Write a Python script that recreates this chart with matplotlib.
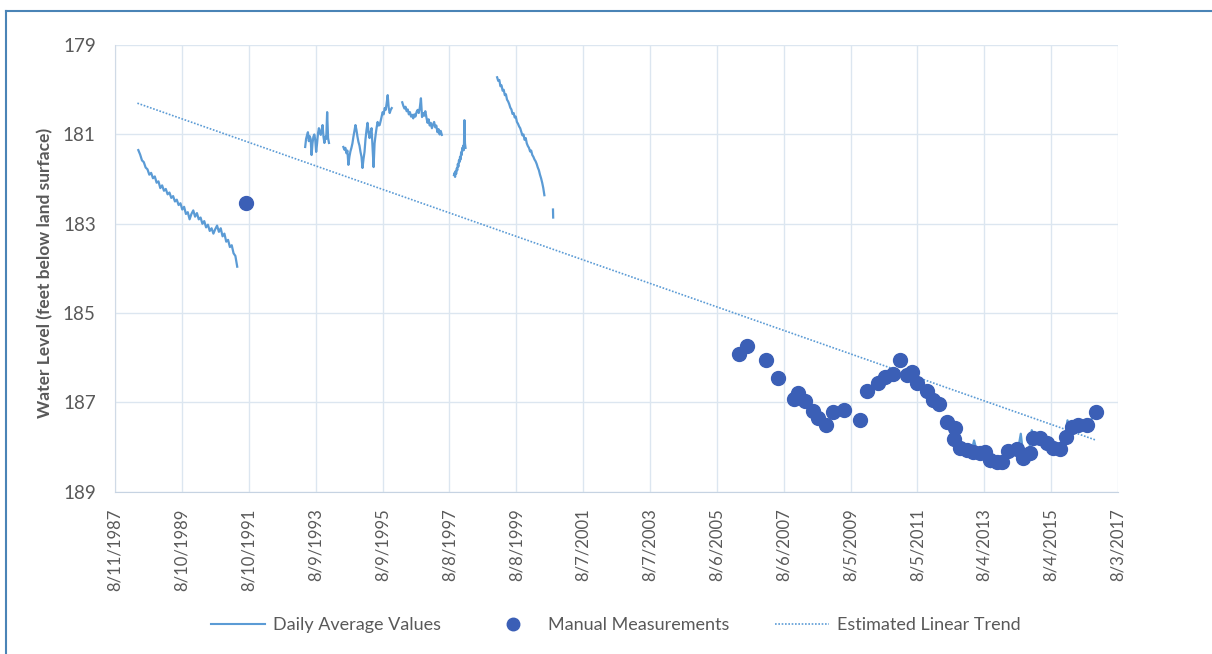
import matplotlib
matplotlib.use('Agg')
import matplotlib.pyplot as plt
import pandas as pd
from matplotlib.lines import Line2D

plt.rcParams['font.family'] = ['Lato', 'DejaVu Sans']

# x axis ticks (Excel style, 730 day major unit)
tickLabels = ['8/11/1987', '8/10/1989', '8/10/1991', '8/9/1993', '8/9/1995',
              '8/8/1997', '8/8/1999', '8/7/2001', '8/7/2003', '8/6/2005',
              '8/6/2007', '8/5/2009', '8/5/2011', '8/4/2013', '8/4/2015',
              '8/3/2017']
yTicks = [179, 181, 183, 185, 187, 189]

# daily average values, one list per logger record (start date, spacing in days, levels)
seg1Start, seg1Step = '1988-04-20', 20
seg1Levels = [181.35, 181.45, 181.58, 181.62, 181.74, 181.78, 181.90, 181.86, 181.98, 181.94,
              182.08, 182.05, 182.20, 182.14, 182.26, 182.22, 182.34, 182.30, 182.42, 182.38,
              182.50, 182.46, 182.58, 182.54, 182.68, 182.62, 182.78, 182.74, 182.90, 182.78,
              182.70, 182.84, 182.76, 182.90, 182.86, 183.00, 182.94, 183.08, 183.02, 183.16,
              183.10, 183.22, 183.12, 183.04, 183.18, 183.10, 183.28, 183.22, 183.40, 183.36,
              183.52, 183.48, 183.66, 183.72, 183.96]

seg2Start, seg2Step = '1993-04-16', 10
seg2Levels = [181.28, 181.10, 181.02, 180.95, 181.15, 181.04, 181.10, 181.46, 181.20, 181.05,
              181.00, 181.12, 181.39, 181.20, 180.98, 180.86, 180.95, 181.01, 180.90, 180.79,
              181.05, 181.19, 181.05, 181.10, 180.50, 181.08, 181.19]

seg3Start, seg3Step = '1994-06-07', 11
seg3Levels = [181.28, 181.34, 181.30, 181.42, 181.36, 181.68, 181.50, 181.38, 181.30, 181.20,
              181.05, 180.92, 180.79, 180.90, 181.05, 181.17, 181.25, 181.39, 181.50, 181.75,
              181.55, 181.39, 181.10, 180.90, 180.74, 180.95, 181.08, 180.95, 180.86, 181.30,
              181.73, 181.20, 181.01, 180.85, 180.72, 180.80, 180.79, 180.70, 180.60, 180.50,
              180.55, 180.41, 180.45, 180.30, 180.12, 180.40, 180.52, 180.45, 180.41]

seg4Start, seg4Step = '1996-03-11', 12
seg4Levels = [180.28, 180.36, 180.42, 180.38, 180.48, 180.44, 180.55, 180.50, 180.60, 180.56,
              180.64, 180.55, 180.60, 180.50, 180.45, 180.52, 180.40, 180.19, 180.61, 180.52,
              180.58, 180.48, 180.62, 180.74, 180.66, 180.80, 180.74, 180.86, 180.78, 180.72,
              180.84, 180.80, 180.95, 180.88, 181.00, 180.92, 181.01]

seg5Start, seg5Step = '1997-09-27', 6
seg5Levels = [181.91, 181.86, 181.95, 181.82, 181.88, 181.76, 181.80, 181.66, 181.72, 181.58,
              181.62, 181.50, 181.56, 181.40, 181.46, 181.30, 181.36, 181.25, 181.35, 180.68,
              181.20, 181.30]

seg6Start, seg6Step = '1999-01-11', 12
seg6Levels = [179.72, 179.80, 179.78, 179.92, 179.90, 180.02, 180.00, 180.12, 180.10, 180.22,
              180.26, 180.32, 180.40, 180.44, 180.54, 180.52, 180.62, 180.60, 180.72, 180.76,
              180.82, 180.86, 180.94, 181.02, 181.00, 181.12, 181.08, 181.20, 181.26, 181.30,
              181.38, 181.36, 181.46, 181.50, 181.56, 181.60, 181.66, 181.74, 181.80, 181.90,
              181.98, 182.08, 182.20, 182.36]

seg7Start, seg7Step = '2000-09-12', 2
seg7Levels = [182.68, 182.86]

seg8Start, seg8Step = '2012-07-19', 30
seg8Levels = [187.50, 187.72, 187.85, 187.95, 188.05, 187.92, 188.08, 188.00, 188.12, 187.85,
              188.10, 188.16, 188.02, 188.14, 188.30, 188.45, 188.28, 188.36, 188.22, 188.34,
              188.20, 188.06, 187.96, 188.08, 187.92, 188.06, 187.70, 188.22, 188.30, 188.10,
              187.62, 187.80, 187.72, 187.84, 187.80, 187.92, 187.86, 188.00, 187.96, 188.10,
              187.98, 188.02, 187.82, 187.40, 187.65, 187.50, 187.58, 187.45, 187.55, 187.42,
              187.52, 187.40, 187.36, 187.25]

# manual measurements (decimal year, level)
manualYears = [1991.53, 2006.26, 2006.50, 2007.07, 2007.43, 2007.91, 2008.03, 2008.24, 2008.48,
               2008.63, 2008.87, 2009.08, 2009.41, 2009.88, 2010.09, 2010.42, 2010.63, 2010.87,
               2011.08, 2011.29, 2011.44, 2011.59, 2011.89, 2012.07, 2012.25, 2012.49, 2012.68,
               2012.72, 2012.87, 2013.08, 2013.26, 2013.47, 2013.62, 2013.77, 2013.98, 2014.13,
               2014.31, 2014.58, 2014.76, 2014.97, 2015.06, 2015.27, 2015.48, 2015.66, 2015.86,
               2016.04, 2016.22, 2016.40, 2016.67, 2016.94]
manualLevels = [182.53, 185.91, 185.73, 186.05, 186.45, 186.92, 186.79, 186.96, 187.19,
                187.34, 187.50, 187.21, 187.17, 187.39, 186.74, 186.56, 186.43, 186.36,
                186.05, 186.38, 186.31, 186.56, 186.74, 186.94, 187.03, 187.43, 187.81,
                187.57, 188.02, 188.06, 188.11, 188.13, 188.11, 188.28, 188.33, 188.33,
                188.08, 188.04, 188.24, 188.13, 187.79, 187.79, 187.90, 188.02, 188.04,
                187.77, 187.55, 187.50, 187.50, 187.21]

# estimated linear trend end points
trendDates = ['1988-04-10', '2016-12-01']
trendLevels = [180.30, 187.84]


def decimalYearToDate(y):
    base = pd.Timestamp(year=int(y), month=1, day=1)
    return base + pd.Timedelta(days=(y - int(y)) * 365.25)


def segmentDates(start, step, levels):
    return pd.date_range(start, periods=len(levels), freq='%dD' % step)


lineColor = '#5b9bd5'
dotColor = '#3b5fb6'
textColor = '#595959'
gridColor = '#dce6f0'

fig = plt.figure(figsize=(12.12, 6.54), dpi=100)
ax = fig.add_axes([0.095, 0.248, 0.8274, 0.683])

segments = [(seg1Start, seg1Step, seg1Levels), (seg2Start, seg2Step, seg2Levels),
            (seg3Start, seg3Step, seg3Levels), (seg4Start, seg4Step, seg4Levels),
            (seg5Start, seg5Step, seg5Levels), (seg6Start, seg6Step, seg6Levels),
            (seg7Start, seg7Step, seg7Levels), (seg8Start, seg8Step, seg8Levels)]
for start, step, levels in segments:
    ax.plot(segmentDates(start, step, levels), levels, color=lineColor, lw=1.6, zorder=2)

manualDates = [decimalYearToDate(y) for y in manualYears]
ax.plot(manualDates, manualLevels, 'o', color=dotColor, markersize=10, zorder=3)

ax.plot(pd.to_datetime(trendDates), trendLevels, color=lineColor, lw=1.2,
        linestyle=(0, (1, 1)), zorder=2)

tickDates = pd.date_range('1987-08-11', periods=len(tickLabels), freq='730D')
ax.set_xticks(tickDates)
ax.set_xticklabels(tickLabels, rotation=90, fontsize=12, color=textColor)
ax.set_xlim(tickDates[0], tickDates[-1])

ax.set_yticks(yTicks)
ax.set_yticklabels([str(v) for v in yTicks], fontsize=13.5, color=textColor)
ax.set_ylim(189, 179)

ax.grid(True, color=gridColor, lw=1.0)
ax.set_axisbelow(True)
for side in ['top', 'right']:
    ax.spines[side].set_visible(False)
ax.spines['left'].set_color('#d0dae6')
ax.spines['bottom'].set_color('#c6d3e2')
ax.tick_params(axis='both', length=0)
ax.tick_params(axis='y', pad=14)
ax.tick_params(axis='x', pad=12)

ax.set_ylabel('Water Level (feet below land surface)', fontsize=12.5, fontweight='bold',
              color=textColor)
ax.yaxis.set_label_coords(-0.062, 0.49)

handles = [Line2D([], [], color=lineColor, lw=1.5),
           Line2D([], [], color=dotColor, marker='o', linestyle='none', markersize=9),
           Line2D([], [], color=lineColor, lw=1.2, linestyle=(0, (1, 1)))]
labels = ['Daily Average Values', 'Manual Measurements', 'Estimated Linear Trend']
leg = fig.legend(handles, labels, loc='center', bbox_to_anchor=(0.508, 0.044), ncol=3,
                 frameon=False, fontsize=13, handlelength=3.0, columnspacing=2.5,
                 handletextpad=0.45)
for t in leg.get_texts():
    t.set_color(textColor)

# outer frame seen on the left and top of the picture
fig.add_artist(Line2D([6 / 1212, 6 / 1212], [0, 1 - 11 / 654], transform=fig.transFigure,
                      color='#4a84b6', lw=1.5))
fig.add_artist(Line2D([6 / 1212, 1], [1 - 11 / 654, 1 - 11 / 654], transform=fig.transFigure,
                      color='#4a84b6', lw=1.5))

fig.savefig('out.png', dpi=100)
